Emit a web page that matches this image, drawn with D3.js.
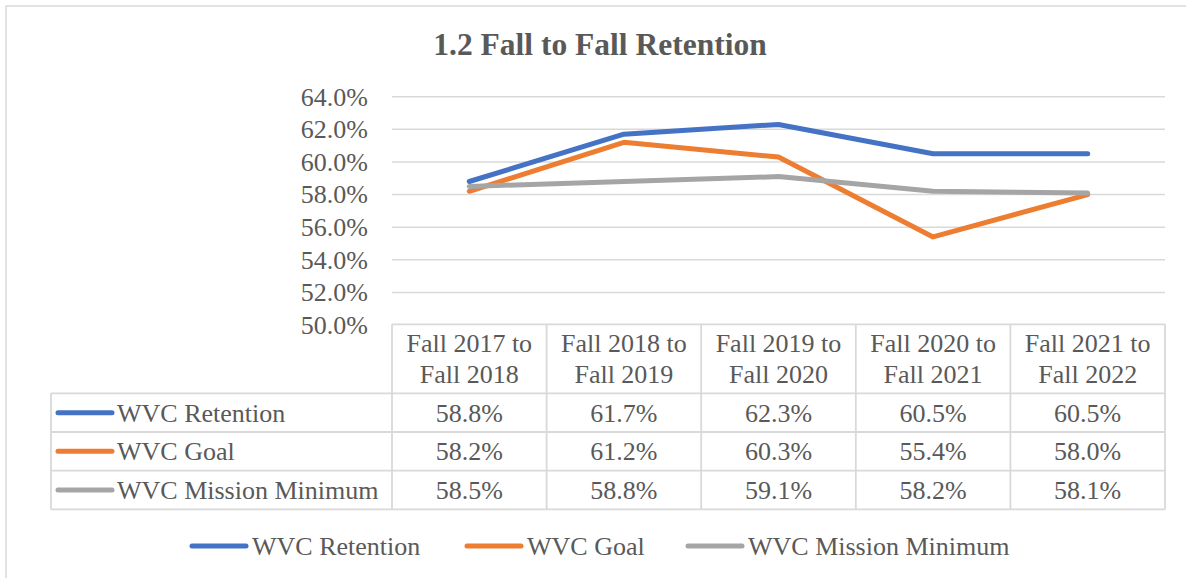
<!DOCTYPE html>
<html>
<head>
<meta charset="utf-8">
<script src="https://cdn.jsdelivr.net/npm/d3@7"></script>
<style>
  html, body { margin: 0; padding: 0; background: #fff; }
  svg { display: block; }
  text { font-family: "Liberation Serif", "Times New Roman", serif; fill: #595959; }
</style>
</head>
<body>
<svg id="chart" width="1186" height="578"></svg>
<script>
const title = "1.2 Fall to Fall Retention";
const categories = ["Fall 2017 to Fall 2018", "Fall 2018 to Fall 2019", "Fall 2019 to Fall 2020", "Fall 2020 to Fall 2021", "Fall 2021 to Fall 2022"];
const seriesNames = ["WVC Retention", "WVC Goal", "WVC Mission Minimum"];
const retention = [58.8, 61.7, 62.3, 60.5, 60.5];
const goal = [58.2, 61.2, 60.3, 55.4, 58.0];
const missionMin = [58.5, 58.8, 59.1, 58.2, 58.1];
const yTicks = [50, 52, 54, 56, 58, 60, 62, 64];
const colors = ["#4472C4", "#ED7D31", "#A5A5A5"];

const series = [
  { name: seriesNames[0], values: retention, color: colors[0] },
  { name: seriesNames[1], values: goal, color: colors[1] },
  { name: seriesNames[2], values: missionMin, color: colors[2] }
];

const svg = d3.select("#chart");
const FS = 26;
const gridColor = "#d9d9d9";

// outer frame (right/bottom clipped)
svg.append("rect").attr("x", 6).attr("y", 6).attr("width", 1200).attr("height", 600)
  .attr("fill", "none").attr("stroke", gridColor).attr("stroke-width", 1.5);

// title
svg.append("text").attr("x", 600).attr("y", 55).attr("text-anchor", "middle")
  .style("font-size", "31.5px").style("font-weight", "bold").text(title);

const plotLeft = 392, plotRight = 1165, plotTop = 96.7, plotBottom = 325;
const x = d3.scaleBand().domain(categories).range([plotLeft, plotRight]).padding(0);
const y = d3.scaleLinear().domain([50, 64]).range([plotBottom, plotTop]);

// gridlines
svg.append("g").selectAll("line").data(yTicks.filter(t => t > 50)).join("line")
  .attr("x1", plotLeft).attr("x2", plotRight)
  .attr("y1", d => y(d)).attr("y2", d => y(d))
  .attr("stroke", gridColor).attr("stroke-width", 1.5);

// y axis labels
const yAxis = d3.axisLeft(y).tickValues(yTicks).tickSize(0).tickPadding(24)
  .tickFormat(d => d3.format(".1f")(d) + "%");
const ya = svg.append("g").attr("transform", `translate(${plotLeft},0)`).call(yAxis);
ya.select(".domain").remove();
ya.selectAll("text").style("font-size", FS + "px")
  .style("font-family", '"Liberation Serif", "Times New Roman", serif').attr("fill", "#595959");

// lines
const line = d3.line().x((d, i) => x(categories[i]) + x.bandwidth() / 2).y(d => y(d));
svg.append("g").selectAll("path").data(series).join("path")
  .attr("d", d => line(d.values))
  .attr("fill", "none").attr("stroke", d => d.color).attr("stroke-width", 5)
  .attr("stroke-linecap", "round").attr("stroke-linejoin", "round");

// data table
const tableLeft = 51;
const headerTop = 324.3, headerBottom = 393.3;
const rowH = 38.7;
const rowTops = series.map((s, i) => headerBottom + i * rowH);
const tableBottom = headerBottom + series.length * rowH;
const tg = svg.append("g");
const border = (x1, y1, x2, y2) => tg.append("line").attr("x1", x1).attr("y1", y1).attr("x2", x2).attr("y2", y2)
  .attr("stroke", gridColor).attr("stroke-width", 1.8);

// horizontal lines
border(plotLeft, headerTop, plotRight, headerTop);
border(tableLeft, headerBottom, plotRight, headerBottom);
rowTops.slice(1).forEach(t => border(tableLeft, t, plotRight, t));
border(tableLeft, tableBottom, plotRight, tableBottom);
// vertical lines
border(tableLeft, headerBottom, tableLeft, tableBottom);
categories.forEach(c => border(x(c), headerTop, x(c), tableBottom));
border(plotRight, headerTop, plotRight, tableBottom);

// header text
categories.forEach(c => {
  const parts = c.split(" to ");
  const cx = x(c) + x.bandwidth() / 2;
  const mid = (headerTop + headerBottom) / 2;
  tg.append("text").attr("x", cx).attr("y", mid - 15.5).attr("dy", "0.35em")
    .attr("text-anchor", "middle").style("font-size", FS + "px").text(parts[0] + " to");
  tg.append("text").attr("x", cx).attr("y", mid + 15.5).attr("dy", "0.35em")
    .attr("text-anchor", "middle").style("font-size", FS + "px").text(parts[1]);
});

// rows
series.forEach((s, i) => {
  const cy = rowTops[i] + rowH / 2;
  tg.append("line").attr("x1", 58).attr("x2", 112).attr("y1", cy).attr("y2", cy)
    .attr("stroke", s.color).attr("stroke-width", 5).attr("stroke-linecap", "round");
  tg.append("text").attr("x", 117).attr("y", cy).attr("dy", "0.35em")
    .style("font-size", FS + "px").text(s.name);
  s.values.forEach((v, j) => {
    tg.append("text").attr("x", x(categories[j]) + x.bandwidth() / 2).attr("y", cy).attr("dy", "0.35em")
      .attr("text-anchor", "middle").style("font-size", FS + "px").text(d3.format(".1f")(v) + "%");
  });
});

// legend
const legendY = 546;
const legendX = [192, 467, 688];
const lg = svg.append("g");
series.forEach((s, i) => {
  lg.append("line").attr("x1", legendX[i]).attr("x2", legendX[i] + 54).attr("y1", legendY).attr("y2", legendY)
    .attr("stroke", s.color).attr("stroke-width", 5).attr("stroke-linecap", "round");
  lg.append("text").attr("x", legendX[i] + 60).attr("y", legendY).attr("dy", "0.35em")
    .style("font-size", FS + "px").text(s.name);
});
</script>
</body>
</html>
